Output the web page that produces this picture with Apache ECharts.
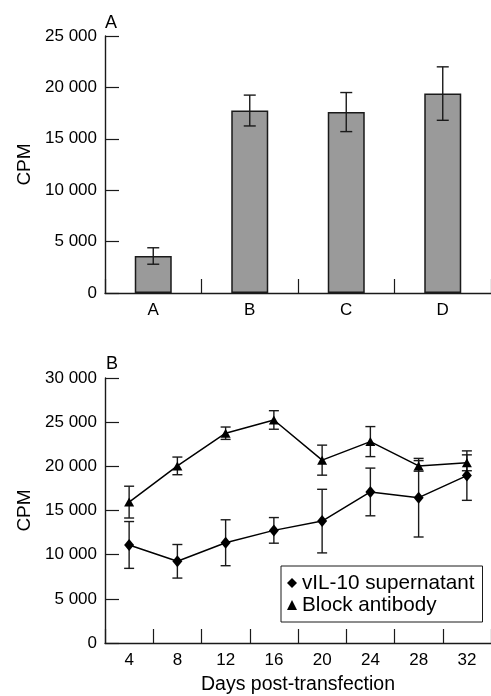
<!DOCTYPE html>
<html>
<head>
<meta charset="utf-8">
<script src="https://cdn.jsdelivr.net/npm/echarts@6/dist/echarts.min.js"></script>
<style>
  html, body { margin: 0; padding: 0; background: #fff; }
  #main { width: 491px; height: 696px; }
</style>
</head>
<body>
<div id="main"></div>
<script>
// panel A - bar chart
var groups = ['A', 'B', 'C', 'D']
var groupCpm = [3600, 17750, 17600, 19400]
var groupErr = [800, 1500, 1900, 2600]

// panel B - time course
var days = ['4', '8', '12', '16', '20', '24', '28', '32']
var vilCpm = [11100, 9250, 11350, 12750, 13800, 17100, 16450, 18950]
var vilErr = [2650, 1900, 2600, 1450, 3600, 2700, 4450, 2800]
var blockCpm = [15950, 20050, 23750, 25250, 20700, 22800, 20050, 20400]
var blockErr = [1800, 1000, 700, 1050, 1700, 1700, 600, 900]

var font = 'Liberation Sans, Arial, Helvetica, sans-serif'
var ink = '#1a1a1a'

function fmt(v) {
  return v === 0 ? '0' : (v / 1000) + ' 000'
}

// [index, low, high] for the error bar series
function errData(vals, errs) {
  return vals.map(function (v, i) { return [i, v - errs[i], v + errs[i]] })
}

function errRender(capHalf) {
  return function (params, api) {
    var i = api.value(0)
    var lo = api.coord([i, api.value(1)])
    var hi = api.coord([i, api.value(2)])
    var st = { stroke: ink, lineWidth: 1.4 }
    return {
      type: 'group',
      children: [
        { type: 'line', shape: { x1: hi[0], y1: hi[1], x2: lo[0], y2: lo[1] }, style: st },
        { type: 'line', shape: { x1: hi[0] - capHalf, y1: hi[1], x2: hi[0] + capHalf, y2: hi[1] }, style: st },
        { type: 'line', shape: { x1: lo[0] - capHalf, y1: lo[1], x2: lo[0] + capHalf, y2: lo[1] }, style: st }
      ]
    }
  }
}

var axisLine = { show: true, lineStyle: { color: ink, width: 1.4 } }
var axisTick = { show: true, inside: true, length: 14, lineStyle: { color: ink, width: 1.2 } }
var tickLabel = { color: '#000', fontSize: 17, fontFamily: font }

var chart = echarts.init(document.getElementById('main'))
chart.setOption({
  animation: false,
  textStyle: { fontFamily: font },
  title: [
    { text: 'A', left: 105, top: 14, padding: 0, textStyle: { fontSize: 18, fontWeight: 'normal', color: '#000' } },
    { text: 'B', left: 106, top: 355, padding: 0, textStyle: { fontSize: 18, fontWeight: 'normal', color: '#000' } }
  ],
  grid: [
    { left: 105, top: 36, width: 386, height: 257 },
    { left: 105, top: 378, width: 386, height: 268 }
  ],
  legend: {
    orient: 'vertical',
    left: 281,
    top: 566,
    padding: [6, 8, 6, 6],
    borderColor: ink,
    borderWidth: 1,
    itemGap: 0,
    itemWidth: 10,
    itemHeight: 10,
    textStyle: { fontSize: 20.7, lineHeight: 22, color: '#000', fontFamily: font },
    data: [
      { name: 'vIL-10 supernatant', icon: 'diamond', itemStyle: { color: '#000' } },
      { name: 'Block antibody', icon: 'triangle', itemStyle: { color: '#000' } }
    ]
  },
  xAxis: [
    {
      gridIndex: 0,
      type: 'category',
      data: groups,
      axisLine: axisLine,
      axisTick: Object.assign({ interval: 0, alignWithLabel: false }, axisTick),
      axisLabel: Object.assign({ margin: 9 }, tickLabel)
    },
    {
      gridIndex: 1,
      type: 'category',
      data: days,
      axisLine: axisLine,
      axisTick: Object.assign({ interval: 0, alignWithLabel: false }, axisTick),
      axisLabel: Object.assign({ margin: 9, interval: 0 }, tickLabel),
      name: 'Days post-transfection',
      nameLocation: 'middle',
      nameGap: 32,
      nameTextStyle: { fontSize: 19.5, color: '#000', fontFamily: font }
    }
  ],
  yAxis: [
    {
      gridIndex: 0,
      type: 'value',
      min: 0,
      max: 25000,
      interval: 5000,
      splitLine: { show: false },
      axisLine: axisLine,
      axisTick: axisTick,
      axisLabel: Object.assign({ formatter: fmt }, tickLabel),
      name: 'CPM',
      nameLocation: 'middle',
      nameRotate: 90,
      nameGap: 70,
      nameTextStyle: { fontSize: 19, color: '#000', fontFamily: font }
    },
    {
      gridIndex: 1,
      type: 'value',
      min: 0,
      max: 30000,
      interval: 5000,
      splitLine: { show: false },
      axisLine: axisLine,
      axisTick: axisTick,
      axisLabel: Object.assign({ formatter: fmt }, tickLabel),
      name: 'CPM',
      nameLocation: 'middle',
      nameRotate: 90,
      nameGap: 70,
      nameTextStyle: { fontSize: 19, color: '#000', fontFamily: font }
    }
  ],
  series: [
    {
      type: 'bar',
      xAxisIndex: 0,
      yAxisIndex: 0,
      data: groupCpm,
      barWidth: 37,
      itemStyle: { color: '#9a9a9a', borderColor: ink, borderWidth: 1.5 }
    },
    {
      type: 'custom',
      xAxisIndex: 0,
      yAxisIndex: 0,
      data: errData(groupCpm, groupErr),
      renderItem: errRender(6),
      z: 5
    },
    {
      type: 'custom',
      xAxisIndex: 1,
      yAxisIndex: 1,
      data: errData(vilCpm, vilErr),
      renderItem: errRender(5),
      z: 1
    },
    {
      type: 'custom',
      xAxisIndex: 1,
      yAxisIndex: 1,
      data: errData(blockCpm, blockErr),
      renderItem: errRender(5),
      z: 1
    },
    {
      name: 'vIL-10 supernatant',
      type: 'line',
      xAxisIndex: 1,
      yAxisIndex: 1,
      data: vilCpm,
      symbol: 'diamond',
      symbolSize: [10, 12],
      itemStyle: { color: '#000' },
      lineStyle: { color: '#000', width: 1.5 },
      z: 3
    },
    {
      name: 'Block antibody',
      type: 'line',
      xAxisIndex: 1,
      yAxisIndex: 1,
      data: blockCpm,
      symbol: 'triangle',
      symbolSize: [10, 9],
      itemStyle: { color: '#000' },
      lineStyle: { color: '#000', width: 1.5 },
      z: 3
    }
  ]
})
</script>
</body>
</html>
